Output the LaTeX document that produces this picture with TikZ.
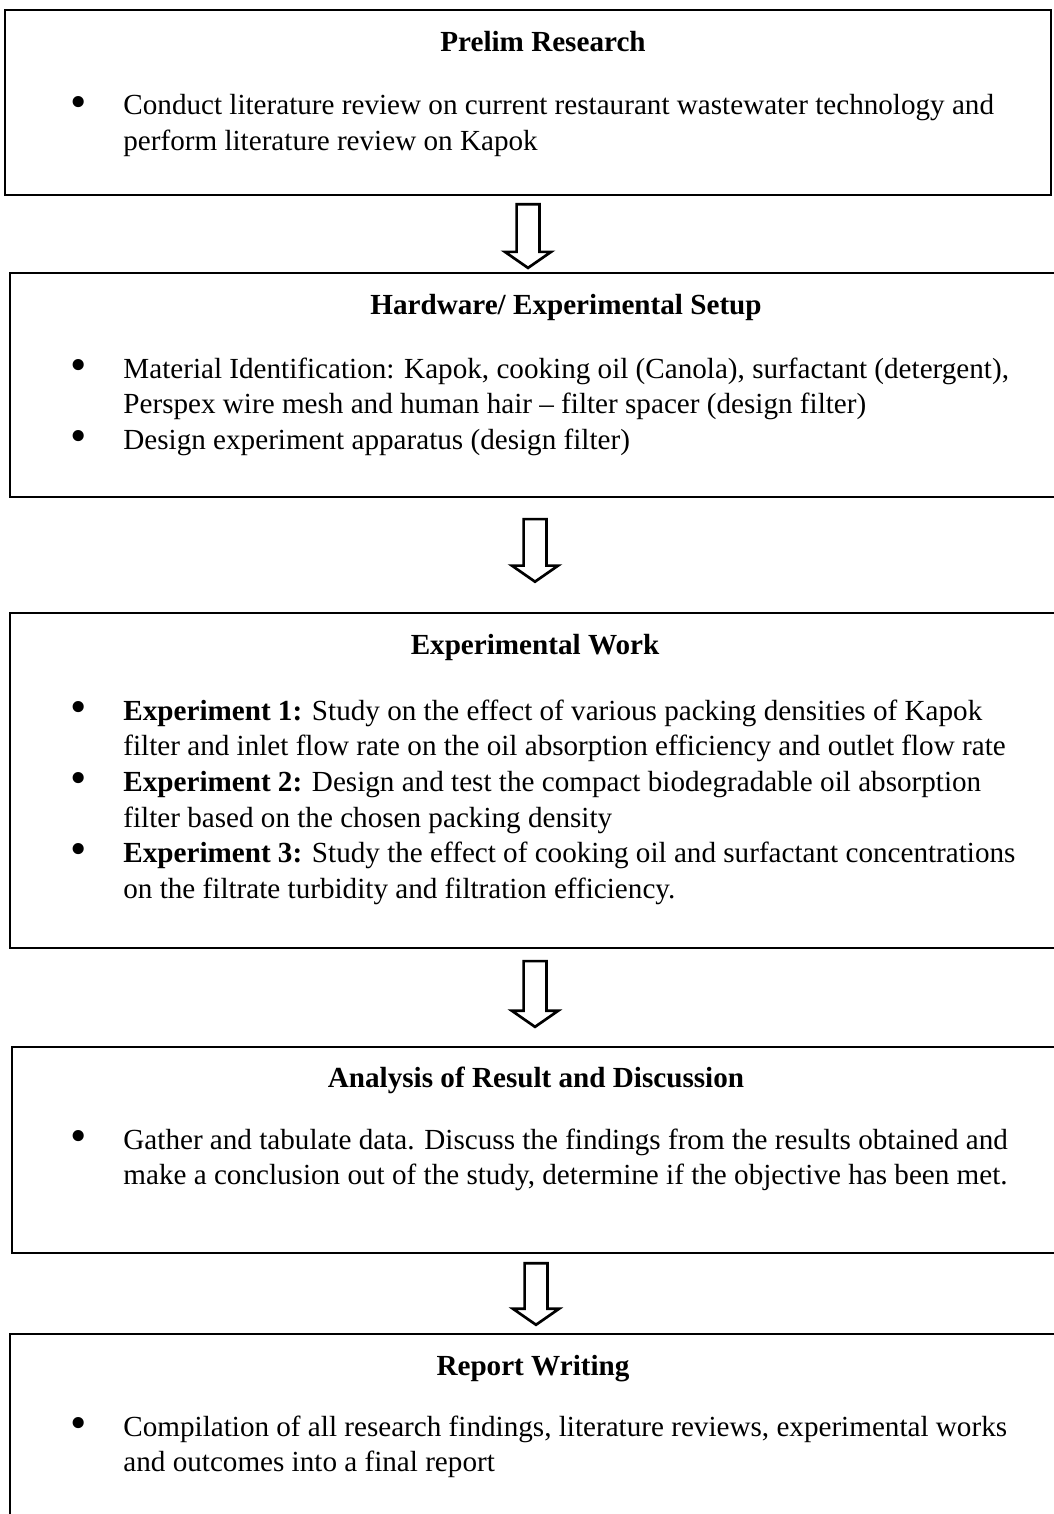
\documentclass[tikz,border=0pt]{standalone}
\usepackage{fontspec}
\setmainfont{Liberation Serif}
\usetikzlibrary{calc,fit}
\newcommand{\stagebullet}{\raisebox{-0.9pt}{\scalebox{1.6}{\textbullet}}}
\newcommand{\stagelist}[1]{\begin{tabular}[t]{@{}p{21.8pt}@{}l@{}}#1\end{tabular}}
\tikzset{
  stage/.style={draw, line width=1pt, inner sep=0pt},
  stagetitle/.style={anchor=base, inner sep=0pt, font=\bfseries\fontsize{12}{14.7}\selectfont},
  stageitems/.style={anchor=base west, inner sep=0pt, font=\fontsize{12}{14.7}\selectfont},
  flowarrow/.style 2 args={line width=1.1pt, line join=miter,
    to path={let \p1=(\tikztostart.south), \p2=(\tikztotarget.north) in
      (\x1-4.7pt,\y1-#1) -- (\x1+4.7pt,\y1-#1) -- (\x1+4.7pt,\y2+#2+6.6pt)
      -- (\x1+9.5pt,\y2+#2+6.6pt) -- (\x1,\y2+#2) -- (\x1-9.5pt,\y2+#2+6.6pt)
      -- (\x1-4.7pt,\y2+#2+6.6pt) -- cycle}}
}
\begin{document}
\begin{tikzpicture}[x=0.4118pt,y=-0.4118pt]
\useasboundingbox (0,0) rectangle (1053,1514);

% Prelim research
\node[stage, fit={(5,10) (1051,195)}] (prelim) {};
\node[stagetitle] (prelimtitle) at (543,52) {Prelim Research};
\node[stageitems] (prelimitems) at (70,115) {\stagelist{%
  \stagebullet & Conduct literature review on current restaurant wastewater technology and\\
  & perform literature review on Kapok}};

% Hardware
\node[stage, fit={(10,273) (1060,497)}] (hardware) {};
\node[stagetitle] (hardwaretitle) at (566,315) {Hardware/ Experimental Setup};
\node[stageitems] (hardwareitems) at (70,378) {\stagelist{%
  \stagebullet & Material Identification: Kapok, cooking oil (Canola), surfactant (detergent),\\
  & Perspex wire mesh and human hair -- filter spacer (design filter)\\
  \stagebullet & Design experiment apparatus (design filter)}};

% Experimental work
\node[stage, fit={(10,613) (1060,948)}] (experiment) {};
\node[stagetitle] (experimenttitle) at (535,654) {Experimental Work};
\node[stageitems] (experimentitems) at (70,720) {\stagelist{%
  \stagebullet & \textbf{Experiment 1:} Study on the effect of various packing densities of Kapok\\
  & filter and inlet flow rate on the oil absorption efficiency and outlet flow rate\\
  \stagebullet & \textbf{Experiment 2:} Design and test the compact biodegradable oil absorption\\
  & filter based on the chosen packing density\\
  \stagebullet & \textbf{Experiment 3:} Study the effect of cooking oil and surfactant concentrations\\
  & on the filtrate turbidity and filtration efficiency.}};

% Analysis
\node[stage, fit={(12,1047) (1060,1253)}] (analysis) {};
\node[stagetitle] (analysistitle) at (536,1087) {Analysis of Result and Discussion};
\node[stageitems] (analysisitems) at (70,1149) {\stagelist{%
  \stagebullet & Gather and tabulate data. Discuss the findings from the results obtained and\\
  & make a conclusion out of the study, determine if the objective has been met.}};

% Report
\node[stage, fit={(10,1334) (1060,1540)}] (report) {};
\node[stagetitle] (reporttitle) at (533,1375) {Report Writing};
\node[stageitems] (reportitems) at (70,1436) {\stagelist{%
  \stagebullet & Compilation of all research findings, literature reviews, experimental works\\
  & and outcomes into a final report}};

% Block arrows
\draw[flowarrow={3.3pt}{1.6pt}] (prelim) to (hardware);
\draw[flowarrow={8.6pt}{12.4pt}] (hardware) to (experiment);
\draw[flowarrow={4.9pt}{7.8pt}] (experiment) to (analysis);
\draw[flowarrow={3.7pt}{3.3pt}] (analysis) to (report);

\end{tikzpicture}
\end{document}
